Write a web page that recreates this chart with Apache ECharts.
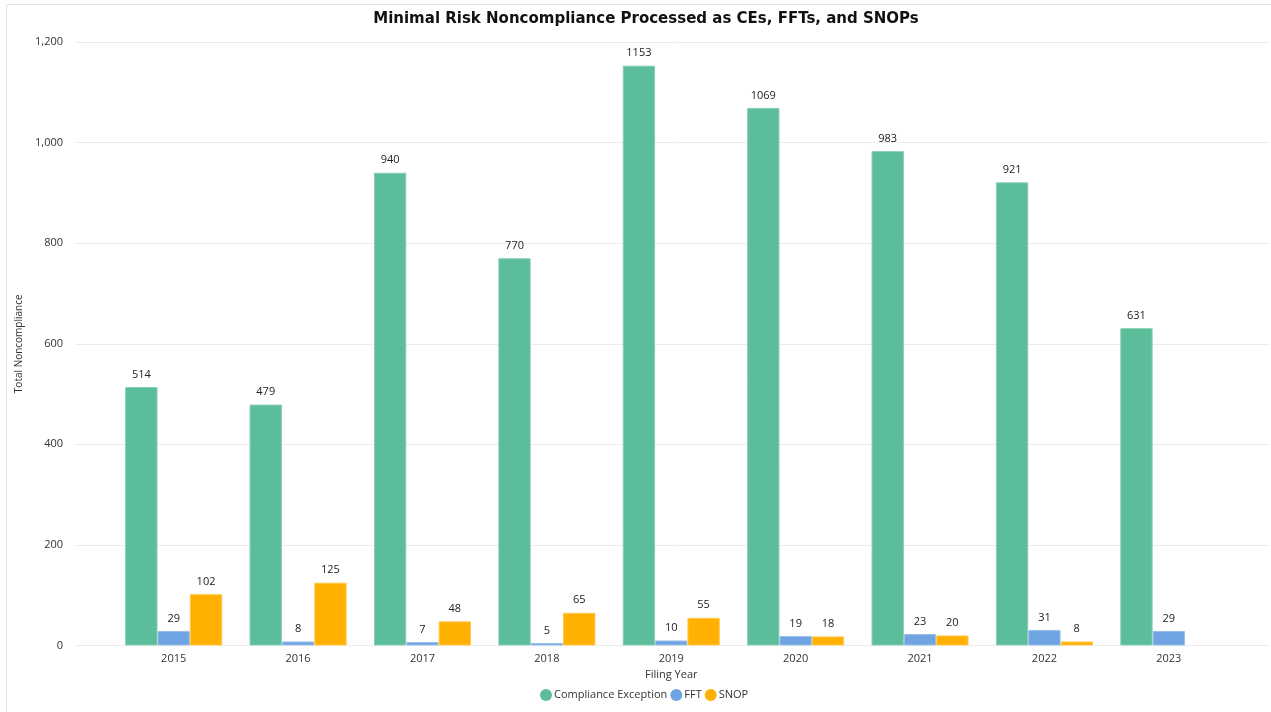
<!DOCTYPE html>
<html>
<head>
<meta charset="utf-8">
<script src="https://cdn.jsdelivr.net/npm/echarts@6/dist/echarts.min.js"></script>
<style>
html,body{margin:0;padding:0;background:#fff;}
#chart{width:1271px;height:712px;}
</style>
</head>
<body>
<div id="chart"></div>
<script>
const years = ['2015','2016','2017','2018','2019','2020','2021','2022','2023'];
const complianceException = [514, 479, 940, 770, 1153, 1069, 983, 921, 631];
const fft = [29, 8, 7, 5, 10, 19, 23, 31, 29];
const snop = [102, 125, 48, 65, 55, 18, 20, 8, null];
const yTicks = [0, 200, 400, 600, 800, 1000, 1200];

const FONT = '"Open Sans", "DejaVu Sans", sans-serif';
const chart = echarts.init(document.getElementById('chart'), null, {renderer: 'canvas'});

const labelCfg = {
  show: true, position: 'top', distance: 7,
  color: '#222', fontSize: 11, fontFamily: FONT
};

chart.setOption({
  animation: false,
  backgroundColor: '#ffffff',
  title: {
    text: 'Minimal Risk Noncompliance Processed as CEs, FFTs, and SNOPs',
    left: 641, top: 7, textAlign: 'center',
    textStyle: {fontSize: 15, fontWeight: 'bold', color: '#111', fontFamily: 'Verdana, "DejaVu Sans", sans-serif'}
  },
  graphic: [{
    type: 'rect', silent: true,
    shape: {x: 6.5, y: 4.5, width: 1300, height: 720},
    style: {fill: 'none', stroke: '#e2e2e2', lineWidth: 1}
  }],
  legend: {
    left: 535, top: 684,
    itemWidth: 12, itemHeight: 12, itemGap: 3,
    icon: 'circle',
    itemStyle: {borderWidth: 0},
    textStyle: {fontSize: 11, color: '#333', fontFamily: FONT, padding: [0, 0, 0, -3]},
    data: ['Compliance Exception', 'FFT', 'SNOP']
  },
  grid: [
    {left: 75, right: 1, top: 42, bottom: 66.5, containLabel: false},
    {left: 111.5, right: 40, top: 42, bottom: 66.5, containLabel: false}
  ],
  xAxis: [
    {gridIndex: 0, type: 'category', data: years, show: false},
    {
      gridIndex: 1, type: 'category', data: years,
      name: 'Filing Year', nameLocation: 'middle', nameGap: 23,
      nameTextStyle: {fontSize: 11, color: '#333', fontFamily: FONT},
      axisLine: {show: false}, axisTick: {show: false},
      axisLabel: {fontSize: 11, color: '#333', fontFamily: FONT, margin: 8}
    }
  ],
  yAxis: [
    {
      gridIndex: 0, type: 'value', min: 0, max: 1200, interval: 200,
      name: 'Total Noncompliance', nameLocation: 'middle', nameGap: 51,
      nameTextStyle: {fontSize: 10, color: '#333', fontFamily: FONT},
      axisLine: {show: false}, axisTick: {show: false},
      axisLabel: {
        fontSize: 11, color: '#333', fontFamily: FONT, margin: 12,
        formatter: v => yTicks.includes(v) ? v.toLocaleString('en-US') : ''
      },
      splitLine: {show: true, lineStyle: {color: '#ececec', width: 1}}
    },
    {
      gridIndex: 1, type: 'value', min: 0, max: 1200, interval: 200,
      show: false, splitLine: {show: false}
    }
  ],
  series: [
    {
      name: 'Compliance Exception', type: 'bar', xAxisIndex: 1, yAxisIndex: 1,
      data: complianceException, barGap: '0%', barCategoryGap: '22%',
      itemStyle: {color: '#5cbd9a', borderColor: '#86cfb5', borderWidth: 1},
      label: labelCfg
    },
    {
      name: 'FFT', type: 'bar', xAxisIndex: 1, yAxisIndex: 1,
      data: fft, barGap: '0%', barCategoryGap: '22%',
      itemStyle: {color: '#6fa3e2', borderColor: '#9cc0ea', borderWidth: 1},
      label: labelCfg
    },
    {
      name: 'SNOP', type: 'bar', xAxisIndex: 1, yAxisIndex: 1,
      data: snop, barGap: '0%', barCategoryGap: '22%',
      itemStyle: {color: '#ffb000', borderColor: '#ffc84d', borderWidth: 1},
      label: labelCfg
    }
  ]
});
</script>
</body>
</html>
